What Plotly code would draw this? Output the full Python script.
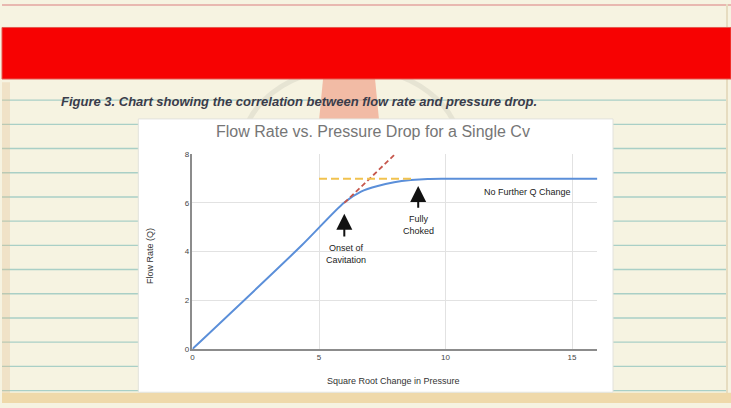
import plotly.graph_objects as go

# ---------------- data ----------------
curve_x = [0, 4.3, 6, 6.66, 7.32, 7.97, 8.63, 9.29, 10, 16]
curve_y = [0, 4.24, 6.02, 6.47, 6.70, 6.85, 6.94, 6.99, 7, 7]

trend_x = [6, 8]          # red dashed extrapolation (no choking)
trend_y = [6, 8]

choke_x = [5, 8.75]        # yellow dashed choked-flow level
choke_y = [7, 7]

x_ticks = [0, 5, 10, 15]
y_ticks = [0, 2, 4, 6, 8]

# arrows: (x, head_y, tail_y)
arrow_x = [6.0, 8.92]
arrow_head_y = [5.56, 6.70]
arrow_tail_y = [4.56, 5.74]

label_text = ["Onset of<br>Cavitation", "Fully<br>Choked", "No Further Q Change"]
label_x = [6.07, 8.92, 13.24]
label_y = [3.91, 5.10, 6.46]

title_text = "Flow Rate vs. Pressure Drop for a Single Cv"
x_title = "Square Root Change in Pressure"
y_title = "Flow Rate (Q)"
caption = "Figure 3. Chart showing the correlation between flow rate and pressure drop."

# ---------------- layout helpers ----------------
W, H = 731, 408
def px(x):
    return x / W
def py(y):
    return 1 - y / H

FONT = "Liberation Sans, Arial, sans-serif"
PAPER = "#f6f3e1"
RULE = "#a9cfc6"

fig = go.Figure()

fig.add_trace(go.Scatter(x=curve_x, y=curve_y, mode="lines",
                         line=dict(color="#5b8fd9", width=2, shape="spline", smoothing=0.8),
                         hoverinfo="skip"))
fig.add_trace(go.Scatter(x=trend_x, y=trend_y, mode="lines",
                         line=dict(color="#c6574c", width=1.8, dash="5px,3px"),
                         hoverinfo="skip"))
fig.add_trace(go.Scatter(x=choke_x, y=choke_y, mode="lines",
                         line=dict(color="#f1c24f", width=2, dash="8px,4px"),
                         hoverinfo="skip"))

shapes = []
# ruled paper lines
for k in range(-1, 13):
    yy = 98.3 + 24.75 * k
    shapes.append(dict(type="line", xref="paper", yref="paper", layer="below",
                       x0=0, x1=px(727), y0=py(yy), y1=py(yy),
                       line=dict(color=RULE, width=1.4)))
# top faint pink line
shapes.append(dict(type="line", xref="paper", yref="paper", layer="below",
                   x0=0, x1=1, y0=py(1), y1=py(1), line=dict(color="#e8b8b0", width=2)))
# right border
shapes.append(dict(type="line", xref="paper", yref="paper", layer="below",
                   x0=px(727), x1=px(727), y0=0, y1=1, line=dict(color="#e6dcc0", width=2)))
# left tan edge
shapes.append(dict(type="rect", xref="paper", yref="paper", layer="below",
                   x0=0, x1=px(8), y0=0, y1=py(80), line=dict(width=0),
                   fillcolor="rgba(225,190,140,0.3)"))
# faint ring of background artwork
shapes.append(dict(type="circle", xref="paper", yref="paper", layer="below",
                   x0=px(240), x1=px(460), y0=py(65), y1=py(235),
                   line=dict(color="rgba(150,150,140,0.16)", width=5)))
# faded salmon artwork behind band
shapes.append(dict(type="path", xref="paper", yref="paper", layer="below",
                   path=f"M {px(322)} {py(76)} L {px(374)} {py(76)} L {px(378)} {py(118)} L {px(318)} {py(118)} Z",
                   fillcolor="rgba(240,150,125,0.6)", line=dict(width=0)))
# red band
shapes.append(dict(type="rect", xref="paper", yref="paper", layer="below",
                   x0=0, x1=1, y0=py(76.7), y1=py(24),
                   fillcolor="#f70202", line=dict(color="#e45a50", width=1)))
# bottom tan strip
shapes.append(dict(type="rect", xref="paper", yref="paper", layer="below",
                   x0=0, x1=1, y0=0, y1=py(397.5),
                   fillcolor="#efd9aa", line=dict(width=0)))
# white chart panel
shapes.append(dict(type="rect", xref="paper", yref="paper", layer="below",
                   x0=px(136.7), x1=px(612.7), y0=py(397), y1=py(117.5),
                   fillcolor="#ffffff", line=dict(color="#e2e2dc", width=1)))

annotations = []
for ax_, hy, ty in zip(arrow_x, arrow_head_y, arrow_tail_y):
    annotations.append(dict(x=ax_, y=hy, ax=ax_, ay=ty, xref="x", yref="y",
                            axref="x", ayref="y", text="", showarrow=True,
                            arrowhead=2, arrowsize=1.6, arrowwidth=2, arrowcolor="#111"))
for t, lx, ly in zip(label_text, label_x, label_y):
    annotations.append(dict(x=lx, y=ly, xref="x", yref="y", text=t, showarrow=False,
                            xanchor="center", yanchor="middle",
                            font=dict(family=FONT, size=9, color="#222")))
annotations += [
    dict(x=px(372), y=py(130.5), xref="paper", yref="paper", text=title_text, showarrow=False,
         xanchor="center", yanchor="middle",
         font=dict(family=FONT, size=16, color="#767676")),
    dict(x=px(393), y=py(386), xref="paper", yref="paper", text=x_title, showarrow=False,
         xanchor="center", yanchor="middle",
         font=dict(family=FONT, size=9, color="#333")),
    dict(x=px(149), y=py(258), xref="paper", yref="paper", text=y_title, showarrow=False,
         xanchor="center", yanchor="middle",
         textangle=-90, font=dict(family=FONT, size=9, color="#333")),
    dict(x=px(57), y=py(100), xref="paper", yref="paper", xanchor="left", yanchor="middle",
         text=caption, showarrow=False,
         font=dict(family=FONT, size=13, color="#3a3c4a", weight="bold", style="italic")),
]

fig.update_layout(
    width=W, height=H, margin=dict(l=0, r=0, t=0, b=0),
    paper_bgcolor=PAPER, plot_bgcolor="rgba(0,0,0,0)",
    showlegend=False, shapes=shapes, annotations=annotations,
    xaxis=dict(domain=[px(191), px(597)], range=[0, 16], tickvals=x_ticks,
               showgrid=True, gridcolor="#e2e2e2", gridwidth=1, zeroline=False,
               showline=True, linecolor="#8c8c8c", linewidth=1.5, ticks="",
               tickfont=dict(family=FONT, size=8, color="#444"), fixedrange=True),
    yaxis=dict(domain=[py(352.7), py(153.7)], range=[0, 8], tickvals=y_ticks,
               showgrid=True, gridcolor="#e2e2e2", gridwidth=1, zeroline=False,
               showline=True, linecolor="#8c8c8c", linewidth=1.5, ticks="",
               tickfont=dict(family=FONT, size=8, color="#444"), fixedrange=True),
)

fig.write_html(
    "out.html",
    config={"displayModeBar": False},
    post_script="document.body.style.margin='0';document.body.style.padding='0';"
                "document.body.style.overflow='hidden';",
)
